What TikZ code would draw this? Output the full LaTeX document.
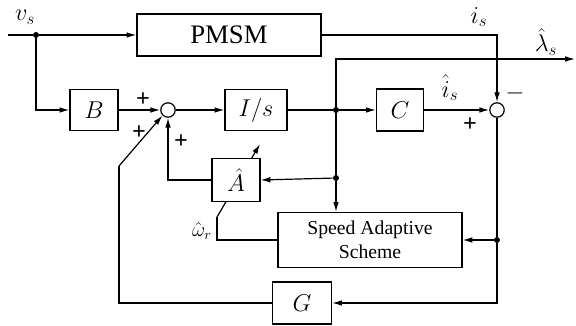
\documentclass[tikz,border=0pt]{standalone}
\usepackage{fontspec}
\setmainfont{Liberation Serif}
\usepackage{amsmath}
\usetikzlibrary{arrows.meta,calc,positioning}
\tikzset{
   every path/.style={>={Latex[length=7pt,width=4pt]}},
   sig/.style={line width=0.85pt},
   blk/.style={draw, fill=white, line width=0.85pt, inner sep=0pt},
   sumnode/.style={draw, circle, fill=white, line width=0.85pt, minimum size=0.36cm, inner sep=0pt},
   jdot/.style={fill, circle, minimum size=0.15cm, inner sep=0pt},
   sgn/.style={font=\LARGE\bfseries, inner sep=0pt},
   lbl/.style={inner sep=0.5pt},
}

\begin{document}
\begin{tikzpicture}[x=0.025cm, y=-0.025cm,
    every node/.style={font=\large}
]
\useasboundingbox (0,0) rectangle (576,326);

% =========================================================
% coordinates
% =========================================================

\coordinate (in)     at (8,35);
\coordinate (lamend) at (575,59);
\coordinate (wtail)  at (217,217);
\coordinate (whead)  at (260,144);
\coordinate (gup)    at (119,166);

% adaptive parameter arrow (behind the A block)
\draw[sig,->] (wtail) -- (whead);

% =========================================================
% blocks
% =========================================================

\node[blk, minimum width=4.6cm, minimum height=1.05cm] (pmsm) at (229,35) {\fontsize{19}{21}\selectfont PMSM};

\node[blk, minimum width=1.2cm, minimum height=1.025cm] (B) at (94,110) {\LARGE $B$};
\node[sumnode] (sum1) at (168,110) {};
\node[blk, minimum width=1.55cm, minimum height=1.025cm] (int) at (256,110) {\LARGE $I/s$};
\node[blk, minimum width=1.175cm, minimum height=1.05cm] (C) at (400,110) {\LARGE $C$};
\node[sumnode] (sum2) at (497,110) {};

\node[blk, minimum width=1.2cm, minimum height=1.075cm] (Ahat) at (236,180) {\LARGE $\hat{A}$};

\node[blk, minimum width=4.6cm, minimum height=1.375cm, align=center,
      font=\fontsize{14}{17}\selectfont] (sas) at (370,240) {Speed Adaptive\\Scheme};

\node[blk, minimum width=1.475cm, minimum height=1.05cm] (G) at (302,303) {\LARGE $G$};

% junction dots
\node[jdot] (vdot) at (36,35) {};
\node[jdot] (xdot) at (336,110) {};
\node[jdot] (adot) at (336,178) {};
\node[jdot] (rdot) at (497,240) {};

% =========================================================
% connectors
% =========================================================

\draw[sig] (in) -- (vdot);
\draw[sig,->] (vdot) -- (pmsm.west);
\draw[sig,->] (vdot) |- (B.west);
\draw[sig,->] (B.east) -- (sum1.west);
\draw[sig,->] (sum1.east) -- (int.west);
\draw[sig] (int.east) -- (xdot);
\draw[sig,->] (xdot) -- (C.west);
\draw[sig,->] (C.east) -- (sum2.west);
\draw[sig,->] (pmsm.east) -| (sum2.north);
\draw[sig,->] (xdot) |- (lamend);

\draw[sig] (xdot) -- (adot);
\draw[sig,->] (adot) -- (adot |- sas.north);
\draw[sig,->] (adot) -- (Ahat.east);
\draw[sig,->] (Ahat.west) -| (sum1.south);

\draw[sig] (sum2.south) -- (rdot);
\draw[sig,->] (rdot) -- (sas.east);
\draw[sig,->] (rdot) |- (G.east);
\draw[sig] (G.west) -| (gup);
\draw[sig,->] (gup) -- (sum1.225);

\draw[sig] (sas.west) -| (wtail);

% =========================================================
% labels
% =========================================================

\node[lbl] (lvs)  at (25,17)  {\LARGE $v_s$};
\node[lbl] (lis)  at (479,17) {\LARGE $i_s$};
\node[lbl] (lish) at (450,88) {\LARGE $\hat{i}_s$};
\node[lbl] (llam) at (546,42) {\LARGE $\hat{\lambda}_s$};
\node[lbl] (lwr)  at (202,231) {\Large $\hat{\omega}_r$};

\node[sgn] (p1) at (143,100) {+};
\node[sgn] (p2) at (139,133) {+};
\node[sgn] (p3) at (181,142) {+};
\node[sgn] (m1) at (515,93)  {$-$};
\node[sgn] (p4) at (470,125) {+};

\end{tikzpicture}
\end{document}
